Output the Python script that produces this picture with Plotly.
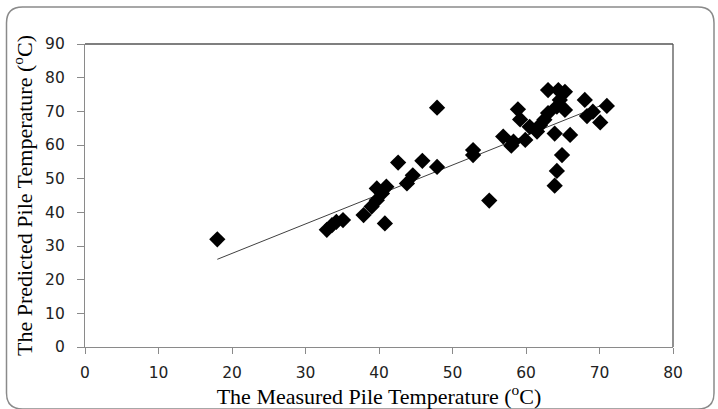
import plotly.graph_objects as go
import numpy as np

measured = [18, 32.9, 33.6, 34.2, 35.1, 37.9, 39.0, 39.7, 40.4, 39.7, 41.0, 40.8,
            42.6, 43.8, 44.6, 45.9, 47.9, 47.9, 52.8, 52.8, 55.0,
            56.9, 58.0, 58.3, 59.9, 58.9, 59.2, 60.5, 61.5, 61.9, 62.5, 63.0,
            63.0, 64.4, 65.3, 64.6, 64.2, 65.3, 63.9, 66.0, 64.9, 64.2, 63.9,
            68.0, 71.0, 69.1, 68.3, 70.1]
predicted = [32, 34.8, 36.2, 37.2, 37.7, 39.2, 41.7, 43.6, 45.6, 47.1, 47.6, 36.7,
             54.8, 48.6, 51.0, 55.3, 71.1, 53.5, 58.5, 57.0, 43.5,
             62.5, 59.8, 61.0, 61.5, 70.6, 67.6, 65.4, 64.0, 65.9, 67.5, 69.5,
             76.3, 76.3, 75.8, 73.4, 71.4, 70.4, 63.4, 63.0, 57.0, 52.3, 47.9,
             73.4, 71.6, 69.9, 68.6, 66.7]

trend_range = [18, 70.5]
trend_slope = 0.875
trend_intercept = 10.3

x_ticks = [0, 10, 20, 30, 40, 50, 60, 70, 80]
y_ticks = [0, 10, 20, 30, 40, 50, 60, 70, 80, 90]

tx = np.array(trend_range)
ty = trend_slope * tx + trend_intercept

fig = go.Figure()
fig.add_trace(go.Scatter(x=tx, y=ty, mode="lines",
                         line=dict(color="#404040", width=1), hoverinfo="skip"))
fig.add_trace(go.Scatter(x=measured, y=predicted, mode="markers",
                         marker=dict(symbol="diamond", size=12.5, color="black",
                                     line=dict(width=0))))

W, H = 718, 409
L, R, T, B = 85, 45, 44, 62
pw, ph = W - L - R, H - T - B


def px(x):
    return (x - L) / pw


def py(y):
    return (H - B - y) / ph


# rounded outer frame (bottom edge sits at the very bottom of the picture)
x0, x1, y0, y1, r = 6.5, 714, 7, 409, 16
path = (f"M {px(x0)},{py(y0 + r)} Q {px(x0)},{py(y0)} {px(x0 + r)},{py(y0)} "
        f"L {px(x1 - r)},{py(y0)} Q {px(x1)},{py(y0)} {px(x1)},{py(y0 + r)} "
        f"L {px(x1)},{py(y1 - r)} Q {px(x1)},{py(y1)} {px(x1 - r)},{py(y1)} "
        f"L {px(x0 + r)},{py(y1)} Q {px(x0)},{py(y1)} {px(x0)},{py(y1 - r)} Z")

shapes = [
    dict(type="path", xref="paper", yref="paper", path=path,
         line=dict(color="#8a8a8a", width=1.5)),
    dict(type="line", xref="paper", yref="paper", x0=0, x1=1, y0=1, y1=1,
         line=dict(color="#555555", width=1.3)),
    dict(type="line", xref="paper", yref="paper", x0=1, x1=1, y0=0, y1=1,
         line=dict(color="#555555", width=1.3)),
]

fig.update_layout(
    width=W, height=H,
    margin=dict(l=L, r=R, t=T, b=B, autoexpand=False),
    plot_bgcolor="white", paper_bgcolor="white",
    showlegend=False,
    shapes=shapes,
    xaxis=dict(range=[0, 80], tickvals=x_ticks, showgrid=False, zeroline=False,
               showline=True, linecolor="#8a8a8a", linewidth=1.3,
               ticks="outside", ticklen=6, tickcolor="#8a8a8a",
               ticklabelstandoff=5,
               tickfont=dict(family="DejaVu Sans", size=15.5, color="#222"),
               title=dict(text="The Measured Pile Temperature (<sup>o</sup>C)",
                          font=dict(family="Liberation Serif", size=22, color="black"),
                          standoff=3)),
    yaxis=dict(range=[0, 90], tickvals=y_ticks, showgrid=False, zeroline=False,
               showline=True, linecolor="#8a8a8a", linewidth=1.3,
               ticks="outside", ticklen=7, tickcolor="#8a8a8a",
               ticklabelstandoff=9,
               tickfont=dict(family="DejaVu Sans", size=15.5, color="#222"),
               title=dict(text="The Predicted Pile Temperature (<sup>o</sup>C)",
                          font=dict(family="Liberation Serif", size=22, color="black"),
                          standoff=6)),
)

fig.write_html("out.html", config={"displayModeBar": False},
               post_script="document.body.style.margin='0';document.body.style.overflow='hidden';")
